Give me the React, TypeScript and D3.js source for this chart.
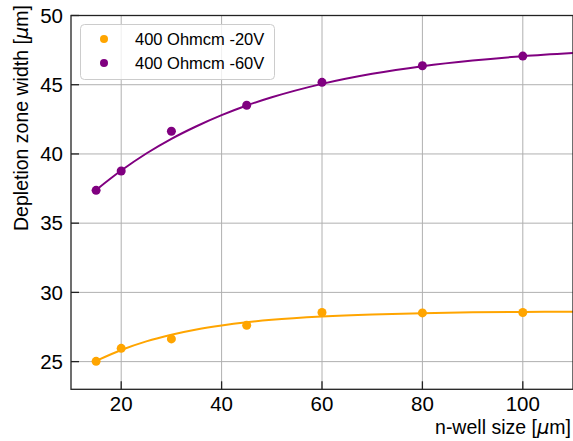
import React from "react";
import * as d3 from "d3";

const nwellSizes = [15, 20, 30, 45, 60, 80, 100];
const width20V = [25.02, 25.96, 26.64, 27.63, 28.55, 28.52, 28.55];
const width60V = [37.37, 38.77, 41.64, 43.52, 45.17, 46.37, 47.07];

const fitX = [15, 20, 25, 30, 35, 40, 45, 50, 60, 70, 80, 90, 100, 110];
const fit20V = [25.05, 25.84, 26.46, 26.94, 27.32, 27.61, 27.84, 28.02, 28.26, 28.41, 28.5, 28.56, 28.59, 28.61];
const fit60V = [37.4, 38.8, 40.03, 41.09, 42.0, 42.8, 43.5, 44.09, 45.06, 45.79, 46.34, 46.75, 47.06, 47.29];

const xTicks = [20, 40, 60, 80, 100];
const yTicks = [25, 30, 35, 40, 45, 50];
const seriesNames = ["400 Ohmcm -20V", "400 Ohmcm -60V"];
const seriesColors = ["#FFA500", "#800080"];

export default function App() {
  const W = 573, H = 441;
  const left = 71, right = 573, top = 15.5, bottom = 389.3;
  const x = d3.scaleLinear().domain([10, 110]).range([left, right]);
  const y = d3.scaleLinear().domain([23, 50]).range([bottom, top]);
  const line = d3
    .line<[number, number]>()
    .x((d) => x(d[0]))
    .y((d) => y(d[1]))
    .curve(d3.curveMonotoneX);

  const fits = [fit20V, fit60V];
  const pts = [width20V, width60V];
  const font = "'Liberation Sans', Arial, sans-serif";

  return (
    <div style={{ position: "absolute", left: 0, top: 0 }}>
      <svg width={W} height={H} style={{ display: "block", fontFamily: font }}>
        <rect x={0} y={0} width={W} height={H} fill="#fff" />
        <defs>
          <clipPath id="plotclip">
            <rect x={left} y={top} width={right - left} height={bottom - top} />
          </clipPath>
        </defs>
        {xTicks.map((t) => (
          <line key={"gx" + t} x1={x(t)} x2={x(t)} y1={top} y2={bottom} stroke="#b0b0b0" strokeWidth={1} />
        ))}
        {yTicks.map((t) => (
          <line key={"gy" + t} x1={left} x2={right} y1={y(t)} y2={y(t)} stroke="#b0b0b0" strokeWidth={1} />
        ))}
        <g clipPath="url(#plotclip)">
          {fits.map((f, i) => (
            <path
              key={"fit" + i}
              d={line(fitX.map((xv, j) => [xv, f[j]] as [number, number])) || ""}
              fill="none"
              stroke={seriesColors[i]}
              strokeWidth={2}
            />
          ))}
          {pts.map((p, i) =>
            p.map((v, j) => (
              <circle key={"pt" + i + "-" + j} cx={x(nwellSizes[j])} cy={y(v)} r={4.5} fill={seriesColors[i]} />
            ))
          )}
        </g>
        <rect x={left} y={top} width={right - left} height={bottom - top} fill="none" stroke="#222" strokeWidth={1.3} />
        {xTicks.map((t) => (
          <g key={"tx" + t}>
            <line x1={x(t)} x2={x(t)} y1={bottom} y2={bottom - 8} stroke="#222" strokeWidth={1.3} />
            <text x={x(t)} y={411} textAnchor="middle" fontSize={20.5} fill="#000">
              {t}
            </text>
          </g>
        ))}
        {yTicks.map((t) => (
          <g key={"ty" + t}>
            <line x1={left} x2={left + 8} y1={y(t)} y2={y(t)} stroke="#222" strokeWidth={1.3} />
            <text x={63} y={y(t) + 7.3} textAnchor="end" fontSize={20.5} fill="#000">
              {t}
            </text>
          </g>
        ))}
        <text x={571} y={434} textAnchor="end" fontSize={19.5} fill="#000">
          n-well size [<tspan fontStyle="italic" fontFamily="'DejaVu Sans', sans-serif">μ</tspan>m]
        </text>
        <text transform="translate(28,5) rotate(-90)" textAnchor="end" fontSize={19.5} fill="#000">
          Depletion zone width [<tspan fontStyle="italic" fontFamily="'DejaVu Sans', sans-serif">μ</tspan>m]
        </text>
        <rect x={80.5} y={24.5} width={194} height={55} rx={4} fill="#fff" fillOpacity={0.8} stroke="#cccccc" strokeWidth={1} />
        {seriesNames.map((n, i) => (
          <g key={"lg" + i}>
            <circle cx={104} cy={39 + i * 24} r={4} fill={seriesColors[i]} />
            <text x={135} y={45 + i * 24} fontSize={16.5} fill="#000">
              {n}
            </text>
          </g>
        ))}
      </svg>
    </div>
  );
}
